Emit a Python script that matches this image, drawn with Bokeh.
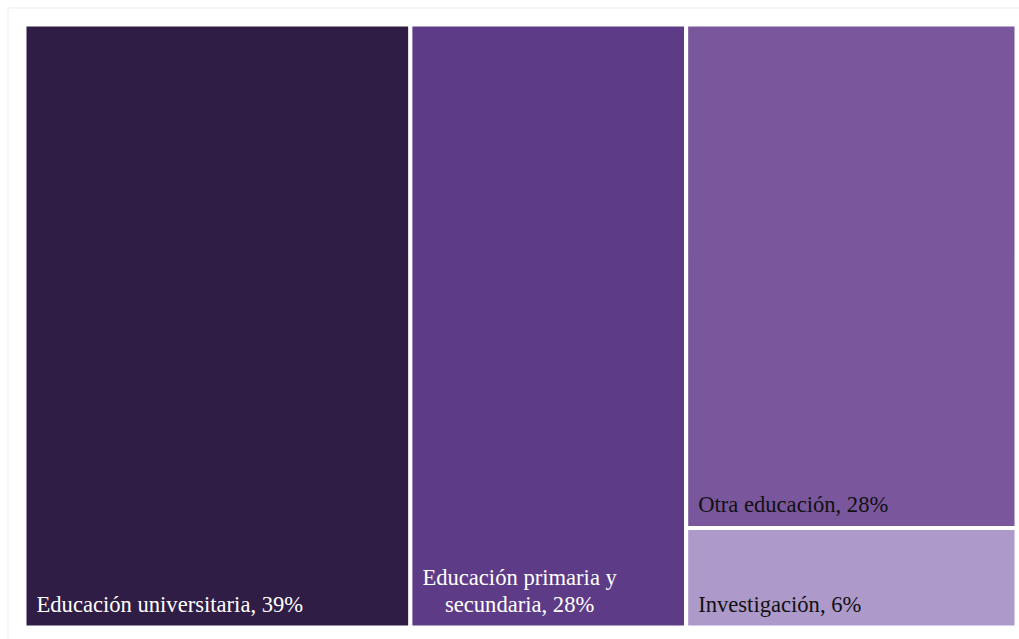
from bokeh.plotting import figure
from bokeh.models import ColumnDataSource, Range1d, BoxAnnotation
from bokeh.core.properties import value
from bokeh.embed import file_html
from bokeh.resources import INLINE

# ---- data ----
categories = ["Educación universitaria", "Educación primaria y\nsecundaria",
              "Otra educación", "Investigación"]
shares = [38.9, 27.8, 27.8, 5.5]
pct_labels = ["39%", "28%", "28%", "6%"]
colors = ["#2f1d45", "#5d3b87", "#7a569c", "#ad99ca"]
text_colors = ["#ffffff", "#ffffff", "#111111", "#111111"]

W, H = 1019, 639
X0, X1, Y0, Y1 = 24, 1016, 24, 627  # treemap area (screen-like units, y downward)

# ---- treemap layout: two columns, then the last two stacked ----
total = sum(shares)
span = X1 - X0
lefts, rights, tops, bottoms = [], [], [], []
x = X0
for v in shares[:2]:
    w = span * v / total
    lefts.append(x); rights.append(x + w); tops.append(Y0); bottoms.append(Y1)
    x += w
rest = shares[2] + shares[3]
ysplit = Y0 + (Y1 - Y0) * shares[2] / rest
lefts += [x, x]; rights += [X1, X1]
tops += [Y0, ysplit]; bottoms += [ysplit, Y1]

labels = [f"{c}, {p}" for c, p in zip(categories, pct_labels)]
tx = [l + 12 for l in lefts]
ty = [b - 11 for b in bottoms]

src = ColumnDataSource(dict(left=lefts, right=rights, top=tops, bottom=bottoms,
                            color=colors, label=labels, tx=tx, ty=ty,
                            tcolor=text_colors))

p = figure(width=W, height=H, output_backend="svg", toolbar_location=None,
           x_range=Range1d(0, W), y_range=Range1d(H, 0),
           min_border=0, min_border_left=0, min_border_right=0,
           min_border_top=0, min_border_bottom=0)
p.axis.visible = False
p.grid.visible = False
p.outline_line_color = None
p.background_fill_color = "white"
p.border_fill_color = "white"

# light frame whose right/bottom edges fall outside the view
p.add_layout(BoxAnnotation(left=7.5, top=7.5, right=W + 20, bottom=H + 20,
                           fill_color=None, line_color="#e2e2e2", line_width=2))

p.quad(left="left", right="right", top="top", bottom="bottom", source=src,
       fill_color="color", line_color="white", line_width=4)

p.text(x="tx", y="ty", text="label", source=src, text_color="tcolor",
       text_align="center", anchor="bottom_left",
       text_font=value("Liberation Serif"), text_font_size="22.6px",
       text_line_height=1.05)

open("out.html", "w").write(file_html(p, INLINE))
